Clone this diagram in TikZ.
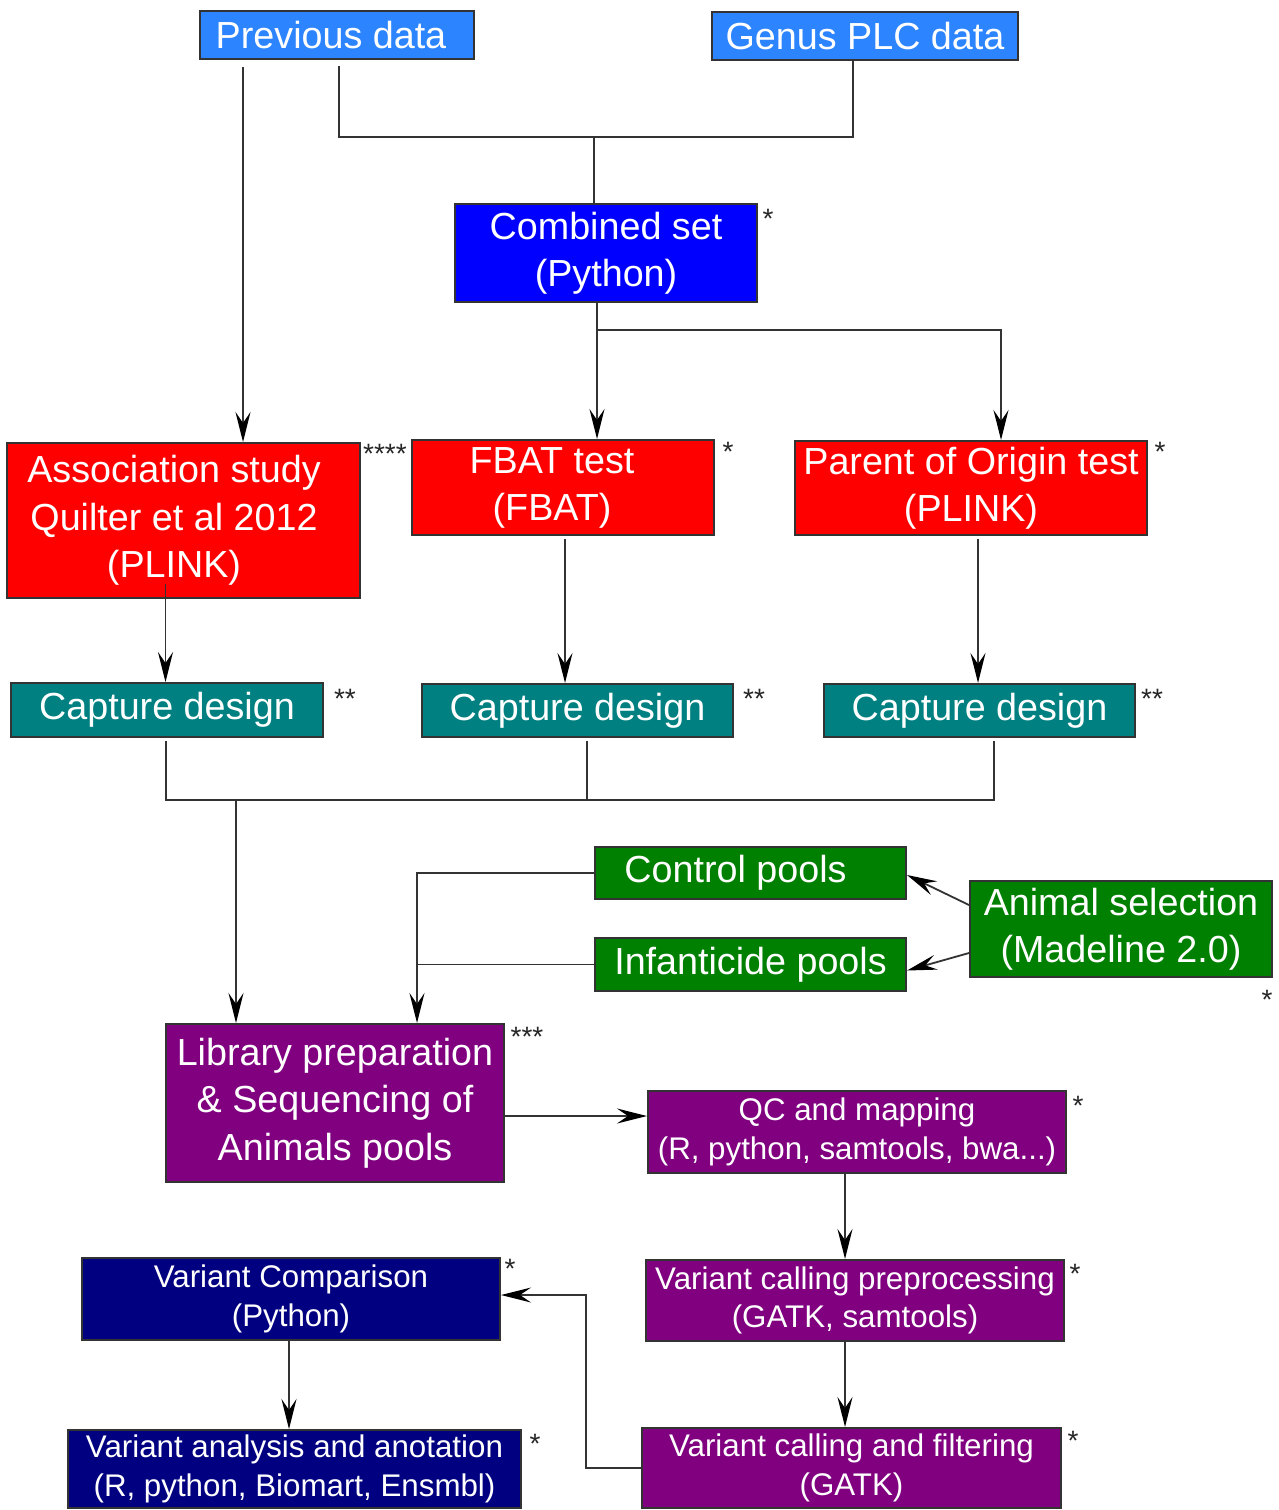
\documentclass[tikz,border=0pt]{standalone}
\usepackage{fontspec}
\setmainfont{Liberation Sans}
\usetikzlibrary{arrows.meta}

\definecolor{srcblue}{RGB}{45,132,255}
\definecolor{setblue}{RGB}{0,0,255}
\definecolor{testred}{RGB}{255,0,0}
\definecolor{captteal}{RGB}{0,128,128}
\definecolor{poolgreen}{RGB}{0,128,0}
\definecolor{seqpurple}{RGB}{128,0,128}
\definecolor{varnavy}{RGB}{0,0,128}

\newcommand\fsbig{\fontsize{37.7}{47.5}\selectfont}
\newcommand\fssmall{\fontsize{31.3}{38.5}\selectfont}
\newcommand\fsstar{\fontsize{28}{30}\selectfont}
% centred block of lines, moved left by half of #1
\newcommand\lines[2]{\begin{tabular}{@{}c@{}}#2\end{tabular}\hspace*{#1}}

\begin{document}
\begin{tikzpicture}[x=1pt,y=-1pt,
  box/.style={draw=black!80, line width=2pt, text=white, inner sep=0pt,
              align=center, font=\fsbig},
  smallbox/.style={box, font=\fssmall},
  conn/.style={draw=black!80, line width=1.8pt},
  arr/.style={conn, -{Stealth[length=30pt, width=15pt, inset=11pt, black]}},
  note/.style={anchor=base, inner sep=0pt, text=black!85, font=\fsstar}
]
\useasboundingbox (0,0) rectangle (1279,1510);

% data sources
\node[box, fill=srcblue, minimum width=274pt, minimum height=48pt] (prev) at (337,35) {Previous data\hspace*{12pt}};
\node[box, fill=srcblue, minimum width=306pt, minimum height=48pt] (genus) at (865,36) {Genus PLC data};
\node[box, fill=setblue, minimum width=302pt, minimum height=98pt] (combo) at (606,253) {Combined set\\(Python)};

% tests
\node[box, fill=testred, minimum width=353pt, minimum height=155pt] (assoc) at (183.5,520.5)
  {\lines{19pt}{Association study\\Quilter et al 2012\\(PLINK)}\rule[-4pt]{0pt}{1pt}};
\node[box, fill=testred, minimum width=302pt, minimum height=95pt] (fbat) at (563,487.5)
  {\lines{22pt}{FBAT test\\(FBAT)}};
\node[box, fill=testred, minimum width=352pt, minimum height=94pt] (parent) at (971,488)
  {Parent of Origin test\\(PLINK)};

% capture designs
\node[box, fill=captteal, minimum width=312pt, minimum height=54pt] (cap1) at (167,710) {Capture design};
\node[box, fill=captteal, minimum width=311pt, minimum height=53pt] (cap2) at (577.5,710.5) {Capture design};
\node[box, fill=captteal, minimum width=311pt, minimum height=53pt] (cap3) at (979.5,710.5) {Capture design};

% pools
\node[box, fill=poolgreen, minimum width=311pt, minimum height=52pt] (ctrl) at (750.5,873) {Control pools\hspace*{30pt}};
\node[box, fill=poolgreen, minimum width=311pt, minimum height=53pt] (infa) at (750.5,964.5) {Infanticide pools};
\node[box, fill=poolgreen, minimum width=302pt, minimum height=96pt] (anim) at (1121,929) {Animal selection\\(Madeline 2.0)};

% sequencing pipeline
\node[box, fill=seqpurple, minimum width=338pt, minimum height=158pt] (lib) at (335,1103)
  {Library preparation\\\& Sequencing of\\Animals pools};
\node[smallbox, fill=seqpurple, minimum width=418pt, minimum height=82pt] (qc) at (857,1132)
  {QC and mapping\\(R, python, samtools, bwa...)};
\node[smallbox, fill=seqpurple, minimum width=418pt, minimum height=81pt] (vcp) at (855,1300.5)
  {Variant calling preprocessing\\(GATK, samtools)};
\node[smallbox, fill=seqpurple, minimum width=419pt, minimum height=80pt] (vcf) at (851.5,1468)
  {Variant calling and filtering\\(GATK)};
\node[smallbox, fill=varnavy, minimum width=418pt, minimum height=82pt] (vcomp) at (291,1299)
  {Variant Comparison\\(Python)};
\node[smallbox, fill=varnavy, minimum width=453pt, minimum height=78pt] (vana) at (294.5,1469)
  {Variant analysis and anotation\\(R, python, Biomart, Ensmbl)};

% footnote marks
\node[note] (n1) at (768,228) {*};
\node[note] (n2) at (385,463) {****};
\node[note] (n3) at (728,461) {*};
\node[note] (n4) at (1160,461) {*};
\node[note] (n5) at (345,708) {**};
\node[note] (n6) at (754,708) {**};
\node[note] (n7) at (1152,708) {**};
\node[note] (n8) at (1267,1009) {*};
\node[note] (n9) at (527,1046) {***};
\node[note] (n10) at (1078,1115) {*};
\node[note] (n11) at (1075,1283) {*};
\node[note] (n12) at (1073,1450) {*};
\node[note] (n13) at (510,1278) {*};
\node[note] (n14) at (535,1453) {*};

% connectors: sources
\coordinate (join) at (594,137);
\draw[conn] ([xshift=2pt,yshift=-6pt]prev.south) |- ([xshift=-12pt]genus.south |- join) -- ([xshift=-12pt]genus.south);
\draw[conn] (join) -- (join |- combo.north);
\draw[arr] ([xshift=-94pt,yshift=-7pt]prev.south) -- ([xshift=-94pt]prev.south |- assoc.north);

% combined set to tests
\coordinate (split) at (597,330);
\draw[arr] (split |- combo.south) -- (split |- fbat.north);
\draw[arr] (split) -| ([xshift=30pt]parent.north);

% tests to capture designs
\draw[arr] ([xshift=-18pt,yshift=15pt]assoc.south) -- ([xshift=-18pt]assoc.south |- cap1.north);
\draw[arr] ([xshift=2pt,yshift=-3pt]fbat.south) -- ([xshift=2pt]fbat.south |- cap2.north);
\draw[arr] ([xshift=7pt,yshift=-3pt]parent.south) -- ([xshift=7pt]parent.south |- cap3.north);

% capture designs merge into library preparation
\coordinate (bus) at (236,800);
\draw[conn] ([xshift=-1pt,yshift=-3pt]cap1.south) |- ([xshift=14.5pt]cap3.south |- bus) -- ([xshift=14.5pt,yshift=-3pt]cap3.south);
\draw[conn] ([xshift=9.5pt,yshift=-3pt]cap2.south) -- ([xshift=9.5pt]cap2.south |- bus);
\draw[arr] (bus) -- (bus |- lib.north);

% pools into library preparation
\draw[arr] (ctrl.west) -| ([xshift=82pt]lib.north);
\draw[conn] (infa.west) -- ([xshift=82pt]lib.north |- infa.west);
\draw[arr] ([yshift=24pt]anim.west) -- ([yshift=-2pt]ctrl.east);
\draw[arr] ([yshift=-24pt]anim.west) -- ([yshift=-6pt]infa.east);

% sequencing pipeline
\draw[arr] ([yshift=-13pt]lib.east) -- ([yshift=-13pt]lib.east -| qc.west);
\draw[arr] ([xshift=-12pt]qc.south) -- ([xshift=-12pt]qc.south |- vcp.north);
\draw[arr] ([xshift=-10pt]vcp.south) -- ([xshift=-10pt]vcp.south |- vcf.north);
\coordinate (bend) at (586,1295);
\draw[arr] (vcf.west) -| (bend) -- (bend -| vcomp.east);
\draw[arr] ([xshift=-2pt]vcomp.south) -- ([xshift=-2pt]vcomp.south |- vana.north);
\end{tikzpicture}
\end{document}
